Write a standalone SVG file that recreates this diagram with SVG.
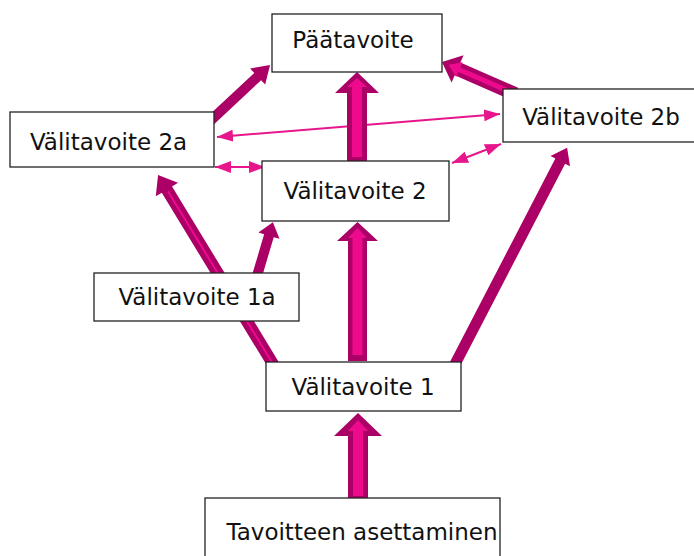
<svg xmlns="http://www.w3.org/2000/svg" width="694" height="556" viewBox="0 0 694 556">
<defs>
<style>
.box{fill:#fff;stroke:#222;stroke-width:1.3}
.lbl{font-family:"DejaVu Sans",Verdana,sans-serif;font-size:23px;fill:#111;text-anchor:middle}
.thin{stroke:#E8168C;stroke-width:2;fill:none;marker-start:url(#tri);marker-end:url(#tri)}
.dark{fill:#AB0066}
.light{fill:#EE0A8C}
</style>
<marker id="tri" viewBox="0 0 16 12" refX="16" refY="6" markerWidth="16" markerHeight="12" markerUnits="userSpaceOnUse" orient="auto-start-reverse">
<path d="M0,0 L16,6 L0,12 Z" fill="#E8168C"/>
</marker>
</defs>
<g id="connectors">
<line class="thin" x1="217" y1="137" x2="500" y2="114"/>
<line class="thin" x1="215" y1="167" x2="265" y2="167"/>
<line class="thin" x1="452" y1="163" x2="501" y2="144"/>
<!-- diagonal solid arrows -->
<path class="dark" transform="translate(208,123) rotate(-43.1)" d="M0,-5 L68,-5 L68,-11 L85,0 L68,11 L68,5 L0,5 Z"/>
<g transform="translate(515.3,94.1) rotate(-156.4)">
<path class="dark" d="M0,-7 L63,-7 L63,-15 L80,0 L63,15 L63,7 L0,7 Z"/>
<path class="light" d="M0,-2.5 L61,-2.5 L61,-8 L73,0 L61,8 L61,2.5 L0,2.5 Z"/>
</g>
<g transform="translate(276,369) rotate(-121.3)">
<path class="dark" d="M0,-6 L210,-6 L210,-13 L227,0 L210,13 L210,6 L0,6 Z"/>
<path class="light" d="M0,-1 L208,-1 L208,1 L0,1 Z"/>
</g>
<path class="dark" transform="translate(257,276) rotate(-73.5)" d="M0,-5 L42,-5 L42,-11 L56,0 L42,11 L42,5 L0,5 Z"/>
<path class="dark" transform="translate(453,368) rotate(-62.6)" d="M0,-5.5 L233,-5.5 L233,-11 L248,0 L233,11 L233,5.5 L0,5.5 Z"/>
<!-- vertical block arrows -->
<polygon class="dark" points="357,72 379,93 367,93 367,163 347,163 347,93 335,93"/>
<polygon class="light" points="357,78 367,87 362,87 362,157 352,157 352,87 347,87"/>
<polygon class="dark" points="357.5,222 378,241 367,241 367,361 348,361 348,241 337,241"/>
<polygon class="light" points="357.5,228 367,238 362.5,238 362.5,355 352.5,355 352.5,238 348,238"/>
<polygon class="dark" points="358,413 382,436 368,436 368,498 348,498 348,436 334,436"/>
<polygon class="light" points="358,420 368,431 363,431 363,496 353,496 353,431 348,431"/>
</g>
<g id="paatavoite"><rect class="box" x="272" y="14" width="170" height="58"/><text class="lbl" x="353" y="48">Päätavoite</text></g>
<g id="valitavoite2a"><rect class="box" x="10" y="112" width="204" height="55"/><text class="lbl" x="108.5" y="150">Välitavoite 2a</text></g>
<g id="valitavoite2b"><rect class="box" x="503" y="89" width="200" height="53"/><text class="lbl" x="601" y="125">Välitavoite 2b</text></g>
<g id="valitavoite2"><rect class="box" x="262" y="161" width="187" height="60"/><text class="lbl" x="355" y="199">Välitavoite 2</text></g>
<g id="valitavoite1a"><rect class="box" x="94" y="273" width="205" height="48"/><text class="lbl" x="197" y="305">Välitavoite 1a</text></g>
<g id="valitavoite1"><rect class="box" x="266" y="362" width="195" height="49"/><text class="lbl" x="363" y="395">Välitavoite 1</text></g>
<g id="tavoitteen"><rect class="box" x="205" y="498" width="295" height="70"/><text class="lbl" x="362" y="540">Tavoitteen asettaminen</text></g>
</svg>
